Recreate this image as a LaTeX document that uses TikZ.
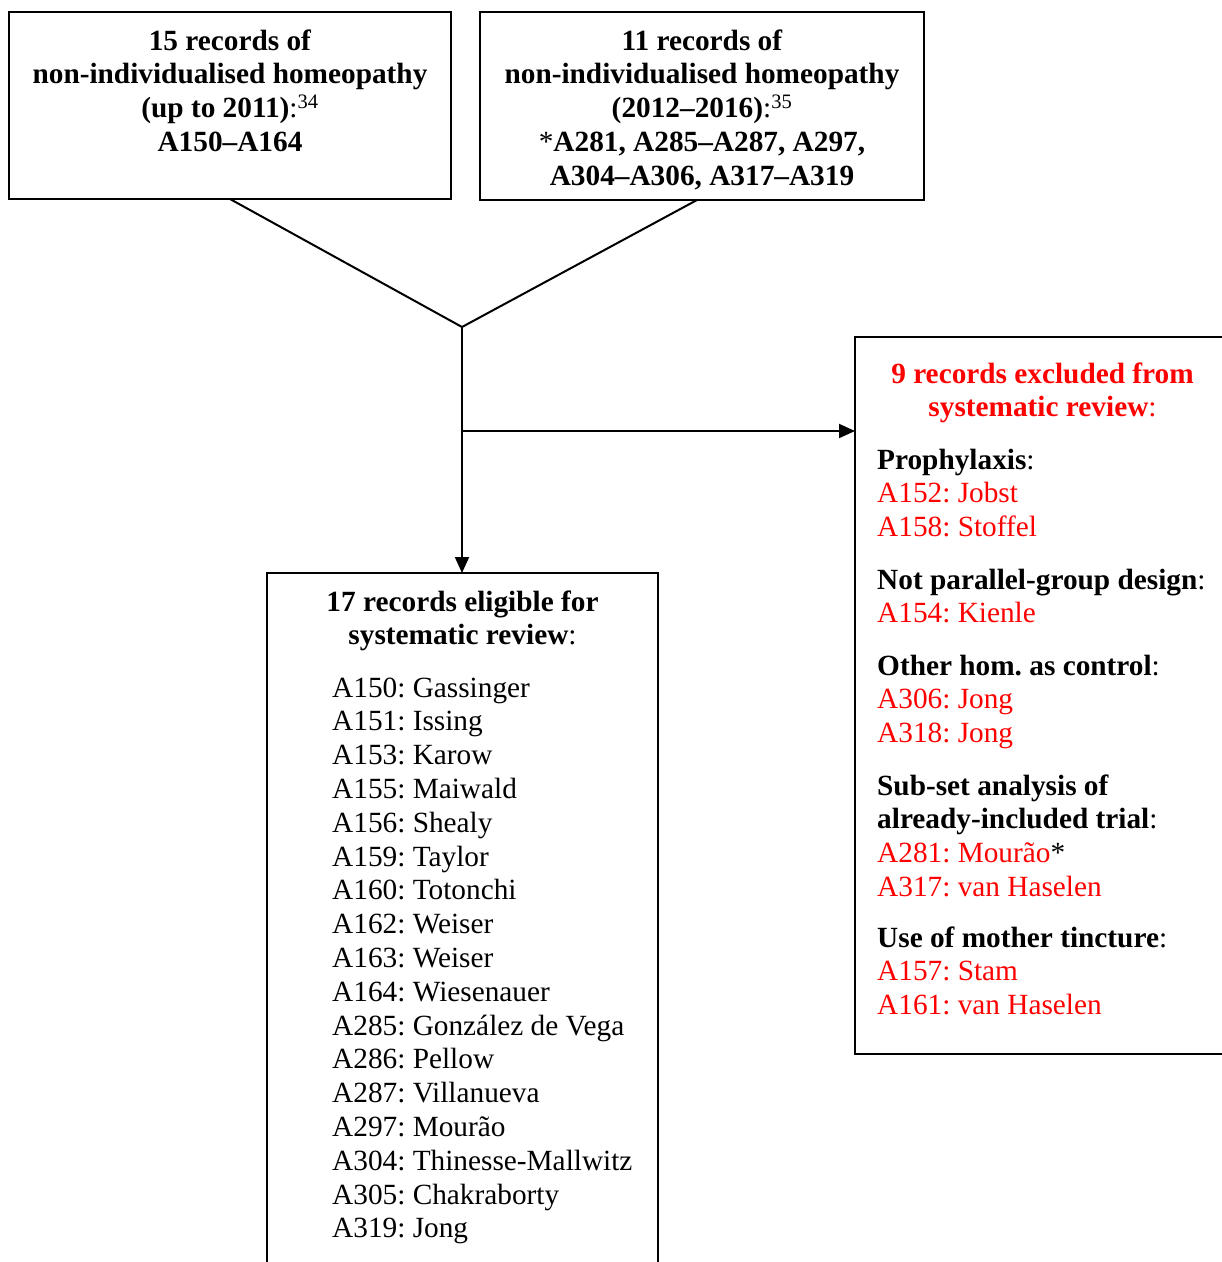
\documentclass[tikz,border=0pt]{standalone}
\usepackage{fontspec}
\setmainfont{Liberation Serif}
\usetikzlibrary{arrows.meta}
\frenchspacing
\begin{document}
\begin{tikzpicture}[x=1pt,y=-1pt,
  every node/.style={font=\fontsize{29.3}{33.8}\selectfont},
  box/.style={draw, line width=2pt, inner sep=0pt, outer sep=0pt, anchor=north west},
  txt/.style={inner sep=0pt, anchor=base},
  txtl/.style={inner sep=0pt, anchor=base west},
  conn/.style={line width=2pt},
  arr/.style={conn, -{Triangle[length=16pt,width=14pt]}}]
\useasboundingbox (0,0) rectangle (1222,1262);
\clip (0,0) rectangle (1222,1262);
% boxes
\node[box, minimum width=442pt, minimum height=187pt] (b1) at (9,12) {};
\node[box, minimum width=444pt, minimum height=188pt] (b2) at (480,12) {};
\node[box, minimum width=391pt, minimum height=740pt] (b3) at (267,573) {};
\node[box, minimum width=380pt, minimum height=717pt] (b4) at (855,337) {};
% box 1 text
\node[txt] (t1a) at (230,50) {\textbf{15 records of}};
\node[txt] (t1b) at (230,83.8) {\textbf{non-individualised homeopathy}};
\node[txt] (t1c) at (230,117.6) {\textbf{(up to 2011)}:\textsuperscript{34}};
\node[txt] (t1d) at (230,151.4) {\textbf{A150–A164}};
% box 2 text
\node[txt] (t2a) at (702,50) {\textbf{11 records of}};
\node[txt] (t2b) at (702,83.8) {\textbf{non-individualised homeopathy}};
\node[txt] (t2c) at (702,117.6) {\textbf{(2012–2016)}:\textsuperscript{35}};
\node[txt] (t2d) at (702,151.4) {*\textbf{A281, A285–A287, A297,}};
\node[txt] (t2e) at (702,185.2) {\textbf{A304–A306, A317–A319}};
% connectors
\coordinate (J) at (462,327);
\coordinate (K) at (462,431);
\draw[conn] (b1.south) -- (J) -- ([xshift=-5pt]b2.south);
\draw[arr] (J) -- (J |- b3.north);
\draw[arr] (K) -- (K -| b4.west);
% box 3 text
\node[txt] (t3a) at (462.5,611) {\textbf{17 records eligible for}};
\node[txt] (t3b) at (462.5,644.8) {\textbf{systematic review}:};
\foreach \t [count=\i from 0] in {A150: Gassinger, A151: Issing, A153: Karow,
  A155: Maiwald, A156: Shealy, A159: Taylor, A160: Totonchi, A162: Weiser,
  A163: Weiser, A164: Wiesenauer, A285: González de Vega, A286: Pellow,
  A287: Villanueva, A297: Mourão, A304: Thinesse-Mallwitz, A305: Chakraborty,
  A319: Jong}
  \node[txtl] (l\i) at (332,{697+33.8*\i}) {\t};
% box 4 text
\node[txt, text=red] (h1) at (1042.5,383) {\textbf{9 records excluded from}};
\node[txt, text=red] (h2) at (1042.5,416.8) {\textbf{systematic review}:};
\node[txtl] (g1) at (877,469) {\textbf{Prophylaxis}:};
\node[txtl, text=red] (g1a) at (877,502.8) {A152: Jobst};
\node[txtl, text=red] (g1b) at (877,536.6) {A158: Stoffel};
\node[txtl] (g2) at (877,589) {\textbf{Not parallel-group design}:};
\node[txtl, text=red] (g2a) at (877,622.8) {A154: Kienle};
\node[txtl] (g3) at (877,675) {\textbf{Other hom. as control}:};
\node[txtl, text=red] (g3a) at (877,708.8) {A306: Jong};
\node[txtl, text=red] (g3b) at (877,742.6) {A318: Jong};
\node[txtl] (g4) at (877,795) {\textbf{Sub-set analysis of}};
\node[txtl] (g4x) at (877,828.8) {\textbf{already-included trial}:};
\node[txtl] (g4a) at (877,862.6) {\textcolor{red}{A281: Mourão}*};
\node[txtl, text=red] (g4b) at (877,896.4) {A317: van Haselen};
\node[txtl] (g5) at (877,947) {\textbf{Use of mother tincture}:};
\node[txtl, text=red] (g5a) at (877,980.8) {A157: Stam};
\node[txtl, text=red] (g5b) at (877,1014.6) {A161: van Haselen};
\end{tikzpicture}
\end{document}
